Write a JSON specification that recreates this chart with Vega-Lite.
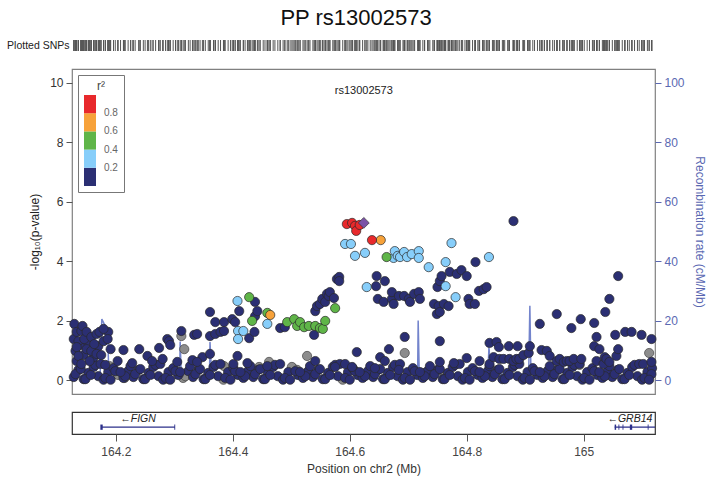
{
"$schema": "https://vega.github.io/schema/vega-lite/v6.json",
"padding": {"left": 6, "top": 6, "right": 4, "bottom": 4},
"background": "white",
"title": {"text": "PP rs13002573", "fontSize": 22, "fontWeight": "normal", "anchor": "middle", "offset": 10, "color": "#111", "font": "Liberation Sans"},
"config": {
  "font": "Liberation Sans",
  "axis": {"labelFont": "Liberation Sans", "titleFont": "Liberation Sans", "titleFontWeight": "normal", "grid": false, "labelFontSize": 12, "titleFontSize": 12, "labelColor": "#333", "titleColor": "#222", "tickColor": "#555"}
},
"datasets": {
  "snps": [
    {"pos":164.128,"logp":0.10,"r2":0.1},{"pos":164.136,"logp":0.34,"r2":0.1},{"pos":164.145,"logp":0.03,"r2":0.1},{"pos":164.153,"logp":0.24,"r2":0.1},{"pos":164.162,"logp":0.44,"r2":0.1},{"pos":164.170,"logp":0.13,"r2":0.1},{"pos":164.179,"logp":0.01,"r2":0.1},{"pos":164.187,"logp":0.27,"r2":0.1},{"pos":164.196,"logp":0.40,"r2":0.1},{"pos":164.204,"logp":0.17,"r2":null},
    {"pos":164.213,"logp":0.07,"r2":0.1},{"pos":164.221,"logp":0.30,"r2":0.1},{"pos":164.230,"logp":0.10,"r2":0.1},{"pos":164.239,"logp":0.34,"r2":0.1},{"pos":164.247,"logp":0.03,"r2":0.1},{"pos":164.256,"logp":0.24,"r2":0.1},{"pos":164.264,"logp":0.44,"r2":0.1},{"pos":164.273,"logp":0.13,"r2":0.1},{"pos":164.281,"logp":0.01,"r2":0.1},{"pos":164.290,"logp":0.27,"r2":0.1},
    {"pos":164.298,"logp":0.40,"r2":0.1},{"pos":164.307,"logp":0.17,"r2":0.1},{"pos":164.315,"logp":0.07,"r2":null},{"pos":164.324,"logp":0.30,"r2":0.1},{"pos":164.332,"logp":0.10,"r2":0.1},{"pos":164.341,"logp":0.34,"r2":0.1},{"pos":164.350,"logp":0.03,"r2":0.1},{"pos":164.358,"logp":0.24,"r2":0.1},{"pos":164.367,"logp":0.44,"r2":0.1},{"pos":164.375,"logp":0.13,"r2":0.1},
    {"pos":164.384,"logp":0.01,"r2":null},{"pos":164.392,"logp":0.27,"r2":0.1},{"pos":164.401,"logp":0.40,"r2":0.1},{"pos":164.409,"logp":0.17,"r2":0.1},{"pos":164.418,"logp":0.07,"r2":0.1},{"pos":164.426,"logp":0.30,"r2":0.1},{"pos":164.435,"logp":0.10,"r2":0.1},{"pos":164.443,"logp":0.34,"r2":0.1},{"pos":164.452,"logp":0.03,"r2":0.1},{"pos":164.460,"logp":0.24,"r2":0.1},
    {"pos":164.469,"logp":0.44,"r2":0.1},{"pos":164.477,"logp":0.13,"r2":0.1},{"pos":164.486,"logp":0.01,"r2":0.1},{"pos":164.495,"logp":0.27,"r2":0.1},{"pos":164.503,"logp":0.40,"r2":null},{"pos":164.512,"logp":0.17,"r2":0.1},{"pos":164.520,"logp":0.07,"r2":0.1},{"pos":164.529,"logp":0.30,"r2":0.1},{"pos":164.537,"logp":0.10,"r2":0.1},{"pos":164.546,"logp":0.34,"r2":0.1},
    {"pos":164.554,"logp":0.03,"r2":0.1},{"pos":164.563,"logp":0.24,"r2":0.1},{"pos":164.571,"logp":0.44,"r2":0.1},{"pos":164.580,"logp":0.13,"r2":0.1},{"pos":164.588,"logp":0.01,"r2":null},{"pos":164.597,"logp":0.27,"r2":0.1},{"pos":164.605,"logp":0.40,"r2":0.1},{"pos":164.614,"logp":0.17,"r2":0.1},{"pos":164.622,"logp":0.07,"r2":0.1},{"pos":164.631,"logp":0.30,"r2":0.1},
    {"pos":164.640,"logp":0.10,"r2":0.1},{"pos":164.648,"logp":0.34,"r2":0.1},{"pos":164.657,"logp":0.03,"r2":0.1},{"pos":164.665,"logp":0.24,"r2":0.1},{"pos":164.674,"logp":0.44,"r2":0.1},{"pos":164.682,"logp":0.13,"r2":0.1},{"pos":164.691,"logp":0.01,"r2":0.1},{"pos":164.699,"logp":0.27,"r2":0.1},{"pos":164.708,"logp":0.40,"r2":0.1},{"pos":164.716,"logp":0.17,"r2":0.1},
    {"pos":164.725,"logp":0.07,"r2":0.1},{"pos":164.733,"logp":0.30,"r2":0.1},{"pos":164.742,"logp":0.10,"r2":0.1},{"pos":164.750,"logp":0.34,"r2":0.1},{"pos":164.759,"logp":0.03,"r2":0.1},{"pos":164.768,"logp":0.24,"r2":0.1},{"pos":164.776,"logp":0.44,"r2":0.1},{"pos":164.785,"logp":0.13,"r2":0.1},{"pos":164.793,"logp":0.01,"r2":0.1},{"pos":164.802,"logp":0.27,"r2":0.1},
    {"pos":164.810,"logp":0.40,"r2":0.1},{"pos":164.819,"logp":0.17,"r2":0.1},{"pos":164.827,"logp":0.07,"r2":0.1},{"pos":164.836,"logp":0.30,"r2":0.1},{"pos":164.844,"logp":0.10,"r2":0.1},{"pos":164.853,"logp":0.34,"r2":0.1},{"pos":164.861,"logp":0.03,"r2":0.1},{"pos":164.870,"logp":0.24,"r2":0.1},{"pos":164.879,"logp":0.44,"r2":0.1},{"pos":164.887,"logp":0.13,"r2":0.1},
    {"pos":164.896,"logp":0.01,"r2":0.1},{"pos":164.904,"logp":0.27,"r2":0.1},{"pos":164.913,"logp":0.40,"r2":0.1},{"pos":164.921,"logp":0.17,"r2":0.1},{"pos":164.930,"logp":0.07,"r2":0.1},{"pos":164.938,"logp":0.30,"r2":0.1},{"pos":164.947,"logp":0.10,"r2":0.1},{"pos":164.955,"logp":0.34,"r2":0.1},{"pos":164.964,"logp":0.03,"r2":0.1},{"pos":164.972,"logp":0.24,"r2":0.1},
    {"pos":164.981,"logp":0.44,"r2":0.1},{"pos":164.989,"logp":0.13,"r2":0.1},{"pos":164.998,"logp":0.01,"r2":0.1},{"pos":165.006,"logp":0.27,"r2":0.1},{"pos":165.015,"logp":0.40,"r2":0.1},{"pos":165.024,"logp":0.17,"r2":0.1},{"pos":165.032,"logp":0.07,"r2":0.1},{"pos":165.041,"logp":0.30,"r2":0.1},{"pos":165.049,"logp":0.10,"r2":0.1},{"pos":165.058,"logp":0.34,"r2":0.1},
    {"pos":165.066,"logp":0.03,"r2":0.1},{"pos":165.075,"logp":0.24,"r2":0.1},{"pos":165.083,"logp":0.44,"r2":0.1},{"pos":165.092,"logp":0.13,"r2":0.1},{"pos":165.100,"logp":0.01,"r2":0.1},{"pos":165.109,"logp":0.27,"r2":0.1},{"pos":165.117,"logp":0.40,"r2":0.1},
    {"pos":164.131,"logp":0.20,"r2":0.1},{"pos":164.148,"logp":0.03,"r2":0.1},{"pos":164.165,"logp":0.51,"r2":0.1},{"pos":164.182,"logp":0.07,"r2":0.1},{"pos":164.199,"logp":0.30,"r2":0.1},{"pos":164.216,"logp":0.13,"r2":0.1},{"pos":164.233,"logp":0.20,"r2":0.1},{"pos":164.250,"logp":0.03,"r2":0.1},{"pos":164.268,"logp":0.51,"r2":0.1},{"pos":164.285,"logp":0.07,"r2":0.1},
    {"pos":164.302,"logp":0.30,"r2":0.1},{"pos":164.319,"logp":0.13,"r2":null},{"pos":164.336,"logp":0.20,"r2":0.1},{"pos":164.353,"logp":0.03,"r2":0.1},{"pos":164.370,"logp":0.51,"r2":0.1},{"pos":164.387,"logp":0.07,"r2":0.1},{"pos":164.404,"logp":0.30,"r2":0.1},{"pos":164.421,"logp":0.13,"r2":0.1},{"pos":164.438,"logp":0.20,"r2":0.1},{"pos":164.455,"logp":0.03,"r2":0.1},
    {"pos":164.472,"logp":0.51,"r2":0.1},{"pos":164.489,"logp":0.07,"r2":0.1},{"pos":164.507,"logp":0.30,"r2":0.1},{"pos":164.524,"logp":0.13,"r2":0.1},{"pos":164.541,"logp":0.20,"r2":0.1},{"pos":164.558,"logp":0.03,"r2":0.1},{"pos":164.575,"logp":0.51,"r2":0.1},{"pos":164.592,"logp":0.07,"r2":0.1},{"pos":164.609,"logp":0.30,"r2":0.1},{"pos":164.626,"logp":0.13,"r2":0.1},
    {"pos":164.643,"logp":0.20,"r2":0.1},{"pos":164.660,"logp":0.03,"r2":0.1},{"pos":164.677,"logp":0.51,"r2":0.1},{"pos":164.694,"logp":0.07,"r2":0.1},{"pos":164.711,"logp":0.30,"r2":0.1},{"pos":164.728,"logp":0.13,"r2":0.1},{"pos":164.745,"logp":0.20,"r2":0.1},{"pos":164.762,"logp":0.03,"r2":0.1},{"pos":164.780,"logp":0.51,"r2":0.1},{"pos":164.797,"logp":0.07,"r2":0.1},
    {"pos":164.814,"logp":0.30,"r2":0.1},{"pos":164.831,"logp":0.13,"r2":0.1},{"pos":164.848,"logp":0.20,"r2":0.1},{"pos":164.865,"logp":0.03,"r2":0.1},{"pos":164.882,"logp":0.51,"r2":0.1},{"pos":164.899,"logp":0.07,"r2":0.1},{"pos":164.916,"logp":0.30,"r2":0.1},{"pos":164.933,"logp":0.13,"r2":0.1},{"pos":164.950,"logp":0.20,"r2":0.1},{"pos":164.967,"logp":0.03,"r2":0.1},
    {"pos":164.984,"logp":0.51,"r2":0.1},{"pos":165.001,"logp":0.07,"r2":0.1},{"pos":165.018,"logp":0.30,"r2":0.1},{"pos":165.036,"logp":0.13,"r2":0.1},{"pos":165.053,"logp":0.20,"r2":0.1},{"pos":165.070,"logp":0.03,"r2":0.1},{"pos":165.087,"logp":0.51,"r2":0.1},{"pos":165.104,"logp":0.07,"r2":0.1},{"pos":165.116,"logp":0.20,"r2":0.1},
    {"pos":164.140,"logp":0.37,"r2":0.1},{"pos":164.157,"logp":0.17,"r2":0.1},{"pos":164.174,"logp":0.54,"r2":0.1},{"pos":164.191,"logp":0.01,"r2":0.1},{"pos":164.208,"logp":0.27,"r2":0.1},{"pos":164.225,"logp":0.47,"r2":0.1},{"pos":164.242,"logp":0.37,"r2":0.1},{"pos":164.259,"logp":0.17,"r2":0.1},{"pos":164.276,"logp":0.54,"r2":0.1},{"pos":164.293,"logp":0.01,"r2":0.1},
    {"pos":164.310,"logp":0.27,"r2":0.1},{"pos":164.327,"logp":0.47,"r2":0.1},{"pos":164.344,"logp":0.37,"r2":0.1},{"pos":164.361,"logp":0.17,"r2":0.1},{"pos":164.379,"logp":0.54,"r2":0.1},{"pos":164.396,"logp":0.01,"r2":0.1},{"pos":164.413,"logp":0.27,"r2":0.1},{"pos":164.430,"logp":0.47,"r2":0.1},{"pos":164.447,"logp":0.37,"r2":0.1},{"pos":164.464,"logp":0.17,"r2":0.1},
    {"pos":164.481,"logp":0.54,"r2":0.1},{"pos":164.498,"logp":0.01,"r2":0.1},{"pos":164.515,"logp":0.27,"r2":0.1},{"pos":164.532,"logp":0.47,"r2":0.1},{"pos":164.549,"logp":0.37,"r2":0.1},{"pos":164.566,"logp":0.17,"r2":0.1},{"pos":164.583,"logp":0.54,"r2":0.1},{"pos":164.600,"logp":0.01,"r2":0.1},{"pos":164.617,"logp":0.27,"r2":0.1},{"pos":164.635,"logp":0.47,"r2":0.1},
    {"pos":164.652,"logp":0.37,"r2":0.1},{"pos":164.669,"logp":0.17,"r2":0.1},{"pos":164.686,"logp":0.54,"r2":0.1},{"pos":164.703,"logp":0.01,"r2":0.1},{"pos":164.720,"logp":0.27,"r2":0.1},{"pos":164.737,"logp":0.47,"r2":0.1},{"pos":164.754,"logp":0.37,"r2":0.1},{"pos":164.771,"logp":0.17,"r2":0.1},{"pos":164.788,"logp":0.54,"r2":0.1},{"pos":164.805,"logp":0.01,"r2":0.1},
    {"pos":164.822,"logp":0.27,"r2":0.1},{"pos":164.839,"logp":0.47,"r2":0.1},{"pos":164.856,"logp":0.37,"r2":0.1},{"pos":164.873,"logp":0.17,"r2":0.1},{"pos":164.890,"logp":0.54,"r2":0.1},{"pos":164.908,"logp":0.01,"r2":0.1},{"pos":164.925,"logp":0.27,"r2":0.1},{"pos":164.942,"logp":0.47,"r2":0.1},{"pos":164.959,"logp":0.37,"r2":0.1},{"pos":164.976,"logp":0.17,"r2":0.1},
    {"pos":164.993,"logp":0.54,"r2":0.1},{"pos":165.010,"logp":0.01,"r2":0.1},{"pos":165.027,"logp":0.27,"r2":0.1},{"pos":165.044,"logp":0.47,"r2":0.1},{"pos":165.061,"logp":0.37,"r2":0.1},{"pos":165.078,"logp":0.17,"r2":0.1},{"pos":165.095,"logp":0.54,"r2":0.1},{"pos":165.112,"logp":0.01,"r2":0.1},
    {"pos":164.728,"logp":0.24,"r2":null},{"pos":164.762,"logp":0.20,"r2":null},
    {"pos":164.128,"logp":1.38,"r2":0.1},{"pos":164.131,"logp":0.98,"r2":0.1},{"pos":164.140,"logp":1.18,"r2":0.1},{"pos":164.153,"logp":1.25,"r2":0.1},{"pos":164.162,"logp":0.77,"r2":0.1},{"pos":164.170,"logp":1.14,"r2":0.1},{"pos":164.179,"logp":1.31,"r2":0.1},{"pos":164.145,"logp":0.84,"r2":0.1},{"pos":164.187,"logp":1.62,"r2":0.1},{"pos":164.133,"logp":0.64,"r2":0.1},
    {"pos":164.129,"logp":1.89,"r2":0.1},{"pos":164.133,"logp":1.62,"r2":0.1},{"pos":164.136,"logp":1.31,"r2":0.1},{"pos":164.133,"logp":1.11,"r2":0.1},{"pos":164.136,"logp":0.81,"r2":0.1},{"pos":164.141,"logp":1.65,"r2":0.1},{"pos":164.143,"logp":1.82,"r2":0.1},{"pos":164.146,"logp":1.38,"r2":0.1},{"pos":164.150,"logp":1.62,"r2":0.1},{"pos":164.150,"logp":1.04,"r2":0.1},
    {"pos":164.158,"logp":1.45,"r2":0.1},{"pos":164.158,"logp":0.98,"r2":0.1},{"pos":164.163,"logp":1.21,"r2":0.1},{"pos":164.167,"logp":1.55,"r2":0.1},{"pos":164.167,"logp":0.88,"r2":0.1},{"pos":164.172,"logp":1.62,"r2":0.1},{"pos":164.175,"logp":0.84,"r2":0.1},{"pos":164.179,"logp":1.72,"r2":0.1},{"pos":164.186,"logp":1.38,"r2":0.1},{"pos":164.191,"logp":1.04,"r2":0.1},
    {"pos":164.155,"logp":0.64,"r2":0.1},{"pos":164.141,"logp":0.54,"r2":0.1},{"pos":164.182,"logp":0.51,"r2":0.1},
    {"pos":164.213,"logp":1.01,"r2":0.1},{"pos":164.240,"logp":1.04,"r2":0.1},{"pos":164.254,"logp":0.81,"r2":0.1},{"pos":164.274,"logp":1.08,"r2":0.1},{"pos":164.288,"logp":1.38,"r2":0.1},{"pos":164.291,"logp":1.31,"r2":0.1},{"pos":164.293,"logp":1.18,"r2":0.1},{"pos":164.312,"logp":1.65,"r2":0.1},{"pos":164.312,"logp":1.48,"r2":null},{"pos":164.317,"logp":1.04,"r2":null},
    {"pos":164.334,"logp":1.52,"r2":0.1},{"pos":164.203,"logp":0.64,"r2":0.1},{"pos":164.228,"logp":0.57,"r2":0.1},{"pos":164.262,"logp":0.64,"r2":0.1},{"pos":164.280,"logp":0.71,"r2":0.1},{"pos":164.305,"logp":0.61,"r2":0.1},{"pos":164.331,"logp":0.67,"r2":0.1},{"pos":164.348,"logp":0.77,"r2":0.1},{"pos":164.189,"logp":0.47,"r2":null},{"pos":164.215,"logp":0.07,"r2":null},{"pos":164.290,"logp":0.03,"r2":null},
    {"pos":164.339,"logp":1.55,"r2":0.1},{"pos":164.339,"logp":0.61,"r2":0.1},{"pos":164.361,"logp":2.29,"r2":0.1},{"pos":164.361,"logp":1.48,"r2":0.1},{"pos":164.361,"logp":0.88,"r2":0.1},{"pos":164.370,"logp":1.95,"r2":0.1},{"pos":164.370,"logp":1.55,"r2":0.1},{"pos":164.379,"logp":1.62,"r2":0.1},{"pos":164.385,"logp":1.95,"r2":0.1},{"pos":164.385,"logp":1.65,"r2":0.1},
    {"pos":164.385,"logp":0.47,"r2":null},{"pos":164.399,"logp":2.05,"r2":0.1},{"pos":164.401,"logp":0.54,"r2":0.1},{"pos":164.404,"logp":1.95,"r2":0.1},{"pos":164.408,"logp":2.66,"r2":0.3},{"pos":164.408,"logp":0.81,"r2":0.1},{"pos":164.409,"logp":1.65,"r2":0.3},{"pos":164.409,"logp":1.38,"r2":0.3},{"pos":164.411,"logp":2.32,"r2":0.1},{"pos":164.418,"logp":1.65,"r2":0.3},
    {"pos":164.425,"logp":0.57,"r2":0.1},{"pos":164.428,"logp":2.79,"r2":0.5},{"pos":164.428,"logp":1.41,"r2":0.1},{"pos":164.433,"logp":1.99,"r2":0.5},{"pos":164.437,"logp":1.62,"r2":0.1},{"pos":164.438,"logp":2.63,"r2":0.1},{"pos":164.438,"logp":2.15,"r2":0.1},{"pos":164.442,"logp":2.32,"r2":0.1},{"pos":164.445,"logp":0.44,"r2":null},{"pos":164.459,"logp":2.26,"r2":0.5},
    {"pos":164.459,"logp":1.89,"r2":0.3},{"pos":164.459,"logp":0.47,"r2":0.1},{"pos":164.462,"logp":0.61,"r2":null},{"pos":164.464,"logp":2.19,"r2":0.7},{"pos":164.481,"logp":1.75,"r2":0.1},{"pos":164.489,"logp":1.78,"r2":0.1},{"pos":164.493,"logp":1.95,"r2":0.5},{"pos":164.501,"logp":0.44,"r2":null},{"pos":164.505,"logp":2.05,"r2":0.5},{"pos":164.510,"logp":1.82,"r2":0.5},
    {"pos":164.510,"logp":0.34,"r2":null},{"pos":164.515,"logp":1.95,"r2":0.5},{"pos":164.522,"logp":1.78,"r2":0.5},{"pos":164.527,"logp":0.81,"r2":null},{"pos":164.530,"logp":1.82,"r2":0.5},{"pos":164.539,"logp":1.52,"r2":0.1},{"pos":164.541,"logp":1.82,"r2":0.5},{"pos":164.541,"logp":2.32,"r2":0.1},{"pos":164.541,"logp":0.64,"r2":0.1},{"pos":164.544,"logp":2.49,"r2":0.1},
    {"pos":164.549,"logp":2.56,"r2":0.1},{"pos":164.549,"logp":1.75,"r2":0.5},{"pos":164.553,"logp":2.73,"r2":0.1},{"pos":164.554,"logp":1.72,"r2":0.5},{"pos":164.558,"logp":2.63,"r2":0.1},{"pos":164.558,"logp":1.99,"r2":0.5},{"pos":164.561,"logp":2.90,"r2":0.1},{"pos":164.564,"logp":2.83,"r2":0.1},{"pos":164.566,"logp":2.96,"r2":0.1},{"pos":164.573,"logp":2.76,"r2":0.1},
    {"pos":164.575,"logp":2.42,"r2":0.5},{"pos":164.578,"logp":3.40,"r2":0.1},{"pos":164.582,"logp":3.47,"r2":0.1},{"pos":164.582,"logp":3.33,"r2":0.1},
    {"pos":164.592,"logp":4.58,"r2":0.3},{"pos":164.602,"logp":4.58,"r2":0.3},{"pos":164.595,"logp":5.25,"r2":0.9},{"pos":164.604,"logp":5.29,"r2":0.9},{"pos":164.609,"logp":5.19,"r2":0.9},{"pos":164.611,"logp":5.02,"r2":0.9},{"pos":164.617,"logp":5.22,"r2":0.9},{"pos":164.609,"logp":4.18,"r2":0.3},{"pos":164.626,"logp":4.28,"r2":0.3},{"pos":164.629,"logp":3.13,"r2":0.3},
    {"pos":164.638,"logp":4.71,"r2":0.9},{"pos":164.653,"logp":4.71,"r2":0.7},{"pos":164.663,"logp":4.14,"r2":0.5},{"pos":164.675,"logp":4.11,"r2":0.3},{"pos":164.677,"logp":4.34,"r2":0.3},{"pos":164.682,"logp":4.18,"r2":0.3},{"pos":164.686,"logp":4.14,"r2":0.3},{"pos":164.693,"logp":4.31,"r2":0.3},{"pos":164.698,"logp":4.14,"r2":0.3},{"pos":164.706,"logp":4.24,"r2":0.3},
    {"pos":164.718,"logp":4.34,"r2":0.3},{"pos":164.718,"logp":4.11,"r2":0.3},{"pos":164.735,"logp":3.80,"r2":0.3},{"pos":164.764,"logp":3.97,"r2":0.3},{"pos":164.774,"logp":4.61,"r2":0.3},{"pos":164.781,"logp":2.79,"r2":0.3},{"pos":164.764,"logp":3.16,"r2":0.3},{"pos":164.838,"logp":4.14,"r2":0.3},{"pos":164.612,"logp":0.94,"r2":0.1},{"pos":164.645,"logp":3.16,"r2":0.1},
    {"pos":164.646,"logp":3.50,"r2":0.1},{"pos":164.660,"logp":3.33,"r2":0.1},{"pos":164.648,"logp":2.73,"r2":0.1},{"pos":164.658,"logp":2.63,"r2":0.1},{"pos":164.672,"logp":2.73,"r2":0.1},{"pos":164.672,"logp":2.96,"r2":0.1},{"pos":164.675,"logp":2.56,"r2":0.1},{"pos":164.684,"logp":2.83,"r2":0.1},{"pos":164.693,"logp":2.83,"r2":0.1},{"pos":164.701,"logp":2.73,"r2":0.1},
    {"pos":164.703,"logp":2.63,"r2":0.1},{"pos":164.710,"logp":2.90,"r2":0.1},{"pos":164.718,"logp":2.96,"r2":0.1},{"pos":164.720,"logp":2.73,"r2":0.1},{"pos":164.744,"logp":2.56,"r2":0.1},{"pos":164.749,"logp":2.22,"r2":0.1},{"pos":164.752,"logp":2.49,"r2":0.1},{"pos":164.754,"logp":2.29,"r2":0.1},{"pos":164.761,"logp":2.56,"r2":0.1},{"pos":164.769,"logp":2.49,"r2":0.1},
    {"pos":164.750,"logp":3.13,"r2":0.1},{"pos":164.754,"logp":3.33,"r2":0.1},{"pos":164.757,"logp":3.50,"r2":0.1},{"pos":164.771,"logp":3.64,"r2":0.1},{"pos":164.783,"logp":3.57,"r2":0.1},{"pos":164.791,"logp":3.70,"r2":0.1},{"pos":164.800,"logp":3.50,"r2":0.1},{"pos":164.803,"logp":2.73,"r2":0.1},{"pos":164.805,"logp":2.56,"r2":0.1},{"pos":164.814,"logp":2.56,"r2":0.1},
    {"pos":164.815,"logp":3.97,"r2":0.1},{"pos":164.821,"logp":3.00,"r2":0.1},{"pos":164.829,"logp":3.06,"r2":0.1},{"pos":164.834,"logp":3.13,"r2":0.1},{"pos":164.880,"logp":5.35,"r2":0.1},
    {"pos":164.652,"logp":0.77,"r2":0.1},{"pos":164.660,"logp":0.64,"r2":0.1},{"pos":164.667,"logp":1.04,"r2":0.1},{"pos":164.694,"logp":1.45,"r2":0.1},{"pos":164.694,"logp":0.91,"r2":null},{"pos":164.754,"logp":1.31,"r2":0.1},{"pos":164.754,"logp":0.61,"r2":0.1},{"pos":164.592,"logp":0.54,"r2":0.1},{"pos":164.604,"logp":0.44,"r2":0.1},{"pos":164.575,"logp":0.44,"r2":0.1},
    {"pos":164.643,"logp":0.40,"r2":0.1},{"pos":164.684,"logp":0.34,"r2":0.1},
    {"pos":164.778,"logp":0.57,"r2":0.1},{"pos":164.800,"logp":0.74,"r2":0.1},{"pos":164.822,"logp":0.64,"r2":0.1},{"pos":164.839,"logp":1.25,"r2":0.1},{"pos":164.839,"logp":0.54,"r2":0.1},{"pos":164.846,"logp":0.77,"r2":0.1},{"pos":164.851,"logp":1.28,"r2":0.1},{"pos":164.855,"logp":1.11,"r2":0.1},{"pos":164.856,"logp":0.71,"r2":0.1},{"pos":164.863,"logp":0.71,"r2":0.1},
    {"pos":164.872,"logp":1.14,"r2":0.1},{"pos":164.873,"logp":0.71,"r2":0.1},{"pos":164.880,"logp":0.64,"r2":0.1},{"pos":164.885,"logp":0.71,"r2":0.1},{"pos":164.887,"logp":1.14,"r2":0.1},{"pos":164.890,"logp":0.71,"r2":0.1},{"pos":164.897,"logp":0.84,"r2":0.1},{"pos":164.906,"logp":0.91,"r2":0.1},{"pos":164.908,"logp":1.14,"r2":0.1},{"pos":164.925,"logp":1.89,"r2":0.1},
    {"pos":164.928,"logp":1.01,"r2":0.1},{"pos":164.937,"logp":0.98,"r2":0.1},{"pos":164.942,"logp":0.81,"r2":0.1},{"pos":164.954,"logp":2.22,"r2":0.1},{"pos":164.954,"logp":0.64,"r2":0.1},{"pos":164.959,"logp":0.71,"r2":0.1},{"pos":164.966,"logp":0.61,"r2":0.1},{"pos":164.971,"logp":0.64,"r2":0.1},{"pos":164.976,"logp":0.64,"r2":0.1},{"pos":164.979,"logp":1.75,"r2":0.1},
    {"pos":164.983,"logp":0.71,"r2":0.1},{"pos":164.993,"logp":0.51,"r2":null},{"pos":164.995,"logp":2.05,"r2":0.1},{"pos":164.996,"logp":0.71,"r2":0.1},{"pos":165.018,"logp":1.92,"r2":0.1},{"pos":165.018,"logp":1.14,"r2":0.1},{"pos":165.022,"logp":1.45,"r2":0.1},{"pos":165.022,"logp":0.64,"r2":0.1},{"pos":165.027,"logp":1.04,"r2":0.1},{"pos":165.034,"logp":0.54,"r2":0.1},
    {"pos":165.036,"logp":0.77,"r2":0.1},{"pos":165.037,"logp":2.29,"r2":0.1},{"pos":165.039,"logp":0.71,"r2":0.1},{"pos":165.044,"logp":2.73,"r2":0.1},{"pos":165.044,"logp":0.61,"r2":0.1},{"pos":165.054,"logp":1.52,"r2":0.1},{"pos":165.056,"logp":0.81,"r2":0.1},{"pos":165.059,"logp":3.50,"r2":0.1},{"pos":165.059,"logp":1.04,"r2":0.1},{"pos":165.071,"logp":1.62,"r2":0.1},
    {"pos":165.082,"logp":1.62,"r2":0.1},{"pos":165.099,"logp":1.52,"r2":0.1},{"pos":165.102,"logp":0.54,"r2":0.1},{"pos":165.112,"logp":0.91,"r2":null},{"pos":165.116,"logp":1.38,"r2":0.1},{"pos":165.116,"logp":0.61,"r2":0.1}
  ],
  "lead": [{"snp": "rs13002573", "pos": 164.624, "logp": 5.29}],
  "recomb": [
    {"pos":164.125,"rate":1.0},{"pos":164.173,"rate":1.0},{"pos":164.176,"rate":20.5},{"pos":164.186,"rate":16.5},{"pos":164.188,"rate":1.0},
    {"pos":164.300,"rate":0.5},{"pos":164.309,"rate":0.5},{"pos":164.310,"rate":13},{"pos":164.312,"rate":0.8},
    {"pos":164.360,"rate":0.8},{"pos":164.361,"rate":12.8},{"pos":164.364,"rate":0.8},{"pos":164.500,"rate":0.4},
    {"pos":164.716,"rate":0.4},{"pos":164.717,"rate":20},{"pos":164.719,"rate":0.5},
    {"pos":164.748,"rate":0.5},{"pos":164.750,"rate":6},{"pos":164.752,"rate":0.8},
    {"pos":164.836,"rate":0.8},{"pos":164.838,"rate":11},{"pos":164.842,"rate":2},{"pos":164.906,"rate":2},
    {"pos":164.908,"rate":25},{"pos":164.910,"rate":0.6},{"pos":165.050,"rate":0.4},{"pos":165.100,"rate":1.5},{"pos":165.122,"rate":2.5}
  ],
  "genes": [
    {"gene":"FIGN","start":164.175,"end":164.301,"mid":164.238,"label":"←FIGN"},
    {"gene":"GRB14","start":165.053,"end":165.175,"mid":165.079,"label":"←GRB14"}
  ],
  "exons": [
    {"start":164.1735,"end":164.1775},{"start":164.3000,"end":164.3015},
    {"start":165.0530,"end":165.0555},{"start":165.0595,"end":165.0610},{"start":165.0665,"end":165.0680},{"start":165.0790,"end":165.0830},{"start":165.1095,"end":165.1110}
  ]
},
"spacing": 16,
"resolve": {"legend": {"color": "independent"}, "scale": {"color": "independent"}},
"vconcat": [
  {
    "width": 583, "height": 11,
    "view": {"stroke": null},
    "data": {"name": "snps"},
    "mark": {"type": "rule", "color": "#555", "strokeWidth": 1},
    "encoding": {
      "x": {"field": "pos", "type": "quantitative", "scale": {"domain": [164.125, 165.122], "nice": false, "zero": false}, "axis": null},
      "y": {"datum": 0, "type": "quantitative", "scale": {"domain": [0, 1]}, "axis": {"title": "Plotted SNPs", "titleAngle": 0, "titleAlign": "right", "titleBaseline": "middle", "titleX": -3, "titleY": 5.5, "titleFontSize": 10.5, "labels": false, "ticks": false, "domain": false}},
      "y2": {"datum": 1}
    }
  },
  {
    "width": 583, "height": 325,
    "view": {"stroke": "#808080", "strokeWidth": 1.2},
    "layer": [
      {
        "data": {"name": "recomb"},
        "mark": {"type": "line", "color": "#7384cc", "strokeWidth": 1.5, "clip": true},
        "encoding": {
          "x": {"field": "pos", "type": "quantitative", "scale": {"domain": [164.125, 165.122], "nice": false, "zero": false}, "axis": null},
          "y": {"field": "rate", "type": "quantitative", "scale": {"domain": [-4.7, 104.7], "nice": false, "zero": false}, "axis": {"orient": "right", "values": [0, 20, 40, 60, 80, 100], "title": "Recombination rate (cM/Mb)", "labelColor": "#5a68b2", "titleColor": "#5a68b2", "tickColor": "#5a68b2", "domain": false, "tickSize": 6, "labelPadding": 3, "titlePadding": 8}}
        }
      },
      {
        "encoding": {
          "x": {"field": "pos", "type": "quantitative", "scale": {"domain": [164.125, 165.122], "nice": false, "zero": false}, "axis": null},
          "y": {"field": "logp", "type": "quantitative", "scale": {"domain": [-0.47, 10.47], "nice": false, "zero": false}, "axis": {"values": [0, 2, 4, 6, 8, 10], "title": "-log₁₀(p-value)", "domain": false, "tickSize": 6, "labelPadding": 3, "titlePadding": 8}}
        },
        "layer": [
          {
            "data": {"name": "snps"},
            "transform": [{"filter": "datum.r2 == null"}],
            "mark": {"type": "circle", "size": 85, "opacity": 1, "color": "#8c8c8c", "stroke": "#444", "strokeWidth": 0.7}
          },
          {
            "data": {"name": "snps"},
            "transform": [{"filter": "datum.r2 != null"}],
            "mark": {"type": "circle", "size": 85, "opacity": 1, "stroke": "#2a2a2a", "strokeWidth": 0.7},
            "encoding": {
              "order": {"field": "r2", "type": "quantitative"},
              "color": {"field": "r2", "type": "quantitative",
                "scale": {"type": "threshold", "domain": [0.2, 0.4, 0.6, 0.8], "range": ["#2b2f73", "#87cefa", "#5fb548", "#f7a23a", "#e8292c"]},
                "legend": {"type": "gradient", "direction": "vertical", "orient": "top-left", "offset": 6, "title": "r²", "gradientLength": 91, "gradientThickness": 12, "gradientStrokeWidth": 0, "format": ".1f", "labelFontSize": 10, "labelColor": "#666", "labelOffset": 8, "titleFontSize": 12, "titleFontWeight": "normal", "titleColor": "#444", "titleAnchor": "middle", "titlePadding": 2, "strokeColor": "#777", "padding": 6, "fillColor": "white"}
              }
            }
          },
          {
            "data": {"name": "lead"},
            "mark": {"type": "point", "shape": "diamond", "filled": true, "size": 120, "color": "#7a52a6", "stroke": "#333", "strokeWidth": 0.7, "opacity": 1}
          },
          {
            "data": {"name": "lead"},
            "mark": {"type": "text", "fontSize": 11, "color": "#222"},
            "encoding": {"y": {"datum": 9.73, "type": "quantitative"}, "text": {"field": "snp"}}
          }
        ]
      }
    ],
    "resolve": {"scale": {"y": "independent"}}
  },
  {
    "width": 583, "height": 22,
    "view": {"stroke": "#333", "strokeWidth": 1.2},
    "layer": [
      {
        "data": {"name": "genes"},
        "mark": {"type": "rule", "color": "#2b2f8a", "strokeWidth": 1.2, "clip": true},
        "encoding": {
          "x": {"field": "start", "type": "quantitative", "title": "Position on chr2 (Mb)", "scale": {"domain": [164.125, 165.122], "nice": false, "zero": false}, "axis": {"values": [164.2, 164.4, 164.6, 164.8, 165], "format": "~f", "tickSize": 7, "domain": false, "labelPadding": 5, "titlePadding": 6, "labelColor": "#444", "titleColor": "#333"}},
          "x2": {"field": "end"},
          "y": {"datum": 0.31, "type": "quantitative", "scale": {"domain": [0, 1]}, "axis": null}
        }
      },
      {
        "data": {"name": "exons"},
        "mark": {"type": "rect", "color": "#2b2f8a", "clip": true},
        "encoding": {
          "x": {"field": "start", "type": "quantitative", "title": "Position on chr2 (Mb)"},
          "x2": {"field": "end"},
          "y": {"datum": 0.19, "type": "quantitative"},
          "y2": {"datum": 0.43}
        }
      },
      {
        "data": {"name": "genes"},
        "mark": {"type": "text", "fontStyle": "italic", "fontSize": 10.5, "color": "#222"},
        "encoding": {
          "x": {"field": "mid", "type": "quantitative", "title": "Position on chr2 (Mb)"},
          "y": {"datum": 0.7, "type": "quantitative"},
          "text": {"field": "label"}
        }
      }
    ]
  }
]
}
